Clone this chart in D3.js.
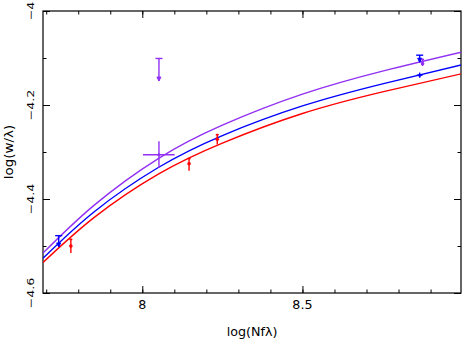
<!DOCTYPE html>
<html>
<head>
<meta charset="utf-8">
<script src="https://cdn.jsdelivr.net/npm/d3@7"></script>
<style>
  body { margin: 0; background: #fff; }
  text { font-family: "DejaVu Sans", sans-serif; fill: #000; }
</style>
</head>
<body>
<div id="plot"></div>
<script>
var svgWidth = 463;
var svgHeight = 342;

var margin = { top: 11, right: 2, bottom: 49, left: 43 };

var width = svgWidth - margin.left - margin.right;
var height = svgHeight - margin.top - margin.bottom;

// curves of growth
var curveX = [7.69, 7.85, 8.05, 8.25, 8.5, 8.75, 9.0];
var purpleY = [-4.515, -4.413, -4.314, -4.243, -4.177, -4.128, -4.087];
var blueY = [-4.526, -4.427, -4.333, -4.265, -4.202, -4.155, -4.114];
var redY = [-4.535, -4.439, -4.347, -4.281, -4.218, -4.172, -4.133];

// upper limits (cap on top, arrow down)
var limitSeries = ["purple", "blue", "blue"];
var limitX = [8.052, 7.739, 8.866];
var limitTop = [-4.101, -4.478, -4.094];
var limitTip = [-4.149, -4.502, -4.109];

// points with vertical error bars
var pointSeries = ["red", "red", "red", "purple"];
var pointX = [7.777, 8.146, 8.234, 8.875];
var pointY = [-4.500, -4.325, -4.273, -4.112];
var pointLo = [-4.515, -4.340, -4.284, -4.117];
var pointHi = [-4.484, -4.312, -4.261, -4.101];

// points with both x and y error bars
var crossSeries = ["purple", "blue"];
var crossX = [8.052, 8.866];
var crossY = [-4.306, -4.1365];
var crossXLo = [8.002, 8.857];
var crossXHi = [8.101, 8.875];
var crossYLo = [-4.334, -4.142];
var crossYHi = [-4.277, -4.131];

var xTickValues = [8, 8.5];
var xTickLabels = ["8", "8.5"];
var yTickValues = [-4, -4.2, -4.4, -4.6];
var yTickLabels = ["\u22124", "\u22124.2", "\u22124.4", "\u22124.6"];
var xMinor = d3.range(77, 90).map(d => d / 10);
var yMinor = [-4.1, -4.3, -4.5];

var colors = { purple: "#9130f2", blue: "#0000ff", red: "#ff0000" };

var svg = d3.select("#plot")
  .append("svg")
  .attr("width", svgWidth)
  .attr("height", svgHeight);

var chartGroup = svg.append("g")
  .attr("transform", `translate(${margin.left}, ${margin.top})`);

var xScale = d3.scaleLinear().domain([7.69, 8.995]).range([0, width]);
var yScale = d3.scaleLinear().domain([-4.6, -4]).range([height, 0]);

chartGroup.append("clipPath")
  .attr("id", "clip")
  .append("rect")
  .attr("width", width)
  .attr("height", height);

// inward ticks on all four sides
function addTicks(axis, values, size, transform) {
  var g = chartGroup.append("g")
    .attr("transform", transform)
    .call(axis.tickValues(values).tickSize(-size).tickFormat(""));
  g.select(".domain").remove();
  g.selectAll("line").attr("stroke", "#000").attr("stroke-width", 1);
}
addTicks(d3.axisBottom(xScale), xTickValues, 7, `translate(0, ${height})`);
addTicks(d3.axisBottom(xScale), xMinor, 3.5, `translate(0, ${height})`);
addTicks(d3.axisTop(xScale), xTickValues, 7, "translate(0, 0)");
addTicks(d3.axisTop(xScale), xMinor, 3.5, "translate(0, 0)");
addTicks(d3.axisLeft(yScale), yTickValues, 7, "translate(0, 0)");
addTicks(d3.axisLeft(yScale), yMinor, 3.5, "translate(0, 0)");
addTicks(d3.axisRight(yScale), yTickValues, 7, `translate(${width}, 0)`);
addTicks(d3.axisRight(yScale), yMinor, 3.5, `translate(${width}, 0)`);

chartGroup.append("rect")
  .attr("width", width)
  .attr("height", height)
  .attr("fill", "none")
  .attr("stroke", "#000")
  .attr("stroke-width", 1.2);

// tick labels
chartGroup.selectAll(".xlab")
  .data(xTickValues)
  .enter()
  .append("text")
  .attr("x", d => xScale(d))
  .attr("y", height + 16)
  .attr("text-anchor", "middle")
  .attr("font-size", 12.7)
  .text((d, i) => xTickLabels[i]);

chartGroup.selectAll(".ylab")
  .data(yTickValues)
  .enter()
  .append("text")
  .attr("transform", d => `translate(-9, ${yScale(d)}) rotate(-90) scale(1, 0.75)`)
  .attr("text-anchor", "middle")
  .attr("font-size", 12.7)
  .text((d, i) => yTickLabels[i]);

// axis titles
chartGroup.append("text")
  .attr("x", width / 2)
  .attr("y", height + 42.5)
  .attr("text-anchor", "middle")
  .attr("font-size", 12.7)
  .text("log(Nf\u03bb)");

chartGroup.append("text")
  .attr("transform", `translate(${12.5 - margin.left}, ${height / 2}) rotate(-90) scale(1, 0.85)`)
  .attr("text-anchor", "middle")
  .attr("font-size", 13.5)
  .text("log(w/\u03bb)");

// curves
var plotArea = chartGroup.append("g").attr("clip-path", "url(#clip)");

var line = d3.line()
  .x(d => xScale(d[0]))
  .y(d => yScale(d[1]))
  .curve(d3.curveNatural);

[["red", redY], ["blue", blueY], ["purple", purpleY]].forEach(function(s) {
  plotArea.append("path")
    .datum(curveX.map((x, i) => [x, s[1][i]]))
    .attr("fill", "none")
    .attr("stroke", colors[s[0]])
    .attr("stroke-width", 1.4)
    .attr("d", line);
});

// upper limits
limitX.forEach(function(x, i) {
  var c = colors[limitSeries[i]];
  var px = xScale(x), top = yScale(limitTop[i]), tip = yScale(limitTip[i]);
  var g = plotArea.append("g").attr("stroke", c).attr("stroke-width", 1.4).attr("fill", c);
  g.append("line").attr("x1", px - 3.5).attr("x2", px + 3.5).attr("y1", top).attr("y2", top);
  g.append("line").attr("x1", px).attr("x2", px).attr("y1", top).attr("y2", tip);
  g.append("path")
    .attr("stroke-width", 1)
    .attr("d", `M${px - 2},${tip - 4}L${px},${tip}L${px + 2},${tip - 4}Z`);
});

// points with vertical error bars
pointX.forEach(function(x, i) {
  var c = colors[pointSeries[i]];
  var px = xScale(x);
  var g = plotArea.append("g").attr("stroke", c).attr("stroke-width", 1.4).attr("fill", c);
  g.append("line").attr("x1", px).attr("x2", px)
    .attr("y1", yScale(pointLo[i])).attr("y2", yScale(pointHi[i]));
  g.append("line").attr("x1", px - 1.5).attr("x2", px + 1.5)
    .attr("y1", yScale(pointHi[i]) + 1).attr("y2", yScale(pointHi[i]) + 1);
  g.append("circle").attr("cx", px).attr("cy", yScale(pointY[i])).attr("r", 1.8).attr("stroke", "none");
});

// points with x and y error bars
crossX.forEach(function(x, i) {
  var c = colors[crossSeries[i]];
  var g = plotArea.append("g").attr("stroke", c).attr("stroke-width", 1.4).attr("fill", c);
  g.append("line")
    .attr("x1", xScale(crossXLo[i])).attr("x2", xScale(crossXHi[i]))
    .attr("y1", yScale(crossY[i])).attr("y2", yScale(crossY[i]));
  g.append("line")
    .attr("x1", xScale(x)).attr("x2", xScale(x))
    .attr("y1", yScale(crossYLo[i])).attr("y2", yScale(crossYHi[i]));
  g.append("circle").attr("cx", xScale(x)).attr("cy", yScale(crossY[i])).attr("r", 1.5).attr("stroke", "none");
});
</script>
</body>
</html>
